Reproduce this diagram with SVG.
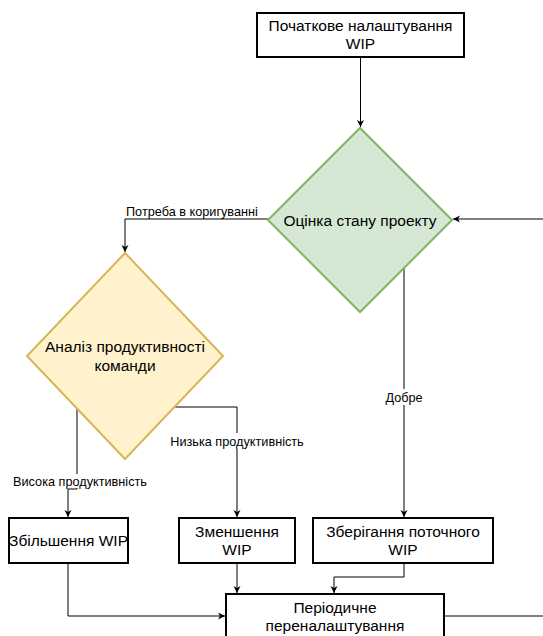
<svg xmlns="http://www.w3.org/2000/svg" width="543" height="636" viewBox="0 0 543 636">
<style>
  .box{fill:#fff;stroke:#000;stroke-width:2}
  .green{fill:#d5e8d4;stroke:#82b366;stroke-width:2}
  .yellow{fill:#fff2cc;stroke:#d6b656;stroke-width:2}
  .t{font-family:"Liberation Sans",Arial,Helvetica,sans-serif;font-size:15.5px;fill:#000;text-anchor:middle}
  .lbl{font-family:"Liberation Sans",Arial,Helvetica,sans-serif;font-size:12.7px;fill:#000;text-anchor:middle}
  .edge{fill:none;stroke:#000;stroke-width:1}
  .bg{fill:#fff}
</style>
<defs>
  <marker id="arr" markerWidth="8" markerHeight="8" refX="7" refY="4" orient="auto" markerUnits="userSpaceOnUse">
    <path d="M0,0.5 L7,4 L0,7.5 L2,4 Z" fill="#000"/>
  </marker>
</defs>
<rect width="543" height="636" fill="#fff"/>
<g id="connectors">
  <path class="edge" d="M360.5,57 V127" marker-end="url(#arr)"/>
  <path class="edge" d="M268,219 H125 V252" marker-end="url(#arr)"/>
  <path class="edge" d="M543,219 H453" marker-end="url(#arr)"/>
  <path class="edge" d="M404,268 V517" marker-end="url(#arr)"/>
  <path class="edge" d="M77,408 V489 H68 V517" marker-end="url(#arr)"/>
  <path class="edge" d="M175,407 H237 V517" marker-end="url(#arr)"/>
  <path class="edge" d="M68,563 V616 H225" marker-end="url(#arr)"/>
  <path class="edge" d="M237,563 V593" marker-end="url(#arr)"/>
  <path class="edge" d="M404,563 V577 H334 V593" marker-end="url(#arr)"/>
  <path class="edge" d="M444,616 H543"/>
  <text class="lbl" x="126" y="216" style="text-anchor:start">Потреба в коригуванні</text>
  <rect class="bg" x="381" y="389" width="46" height="16"/>
  <text class="lbl" x="404" y="401.5">Добре</text>
  <rect class="bg" x="167" y="433" width="140" height="16"/>
  <text class="lbl" x="237" y="445.5">Низька продуктивність</text>
  <rect class="bg" x="10" y="474" width="140" height="14"/>
  <text class="lbl" x="80" y="485.5">Висока продуктивність</text>
</g>
<g id="start">
  <rect class="box" x="257" y="13" width="207" height="44"/>
  <text class="t" x="360.5" y="31">Початкове налаштування</text>
  <text class="t" x="360.5" y="49">WIP</text>
</g>
<g id="assess">
  <polygon class="green" points="360,128 452,220 360,312 268,220"/>
  <text class="t" x="360" y="225.5">Оцінка стану проекту</text>
</g>
<g id="analysis">
  <polygon class="yellow" points="125,253 223,356 125,459 27,356"/>
  <text class="t" x="125" y="352">Аналіз продуктивності</text>
  <text class="t" x="125" y="371">команди</text>
</g>
<g id="increase">
  <rect class="box" x="9" y="518" width="119" height="45"/>
  <text class="t" x="68.5" y="546">Збільшення WIP</text>
</g>
<g id="decrease">
  <rect class="box" x="179" y="518" width="116" height="45"/>
  <text class="t" x="237" y="537">Зменшення</text>
  <text class="t" x="237" y="555">WIP</text>
</g>
<g id="keep">
  <rect class="box" x="313" y="518" width="180" height="45"/>
  <text class="t" x="403" y="537">Зберігання поточного</text>
  <text class="t" x="403" y="555">WIP</text>
</g>
<g id="periodic">
  <rect class="box" x="226" y="594" width="218" height="44"/>
  <text class="t" x="335" y="612.5">Періодичне</text>
  <text class="t" x="335" y="631">переналаштування</text>
</g>
</svg>
